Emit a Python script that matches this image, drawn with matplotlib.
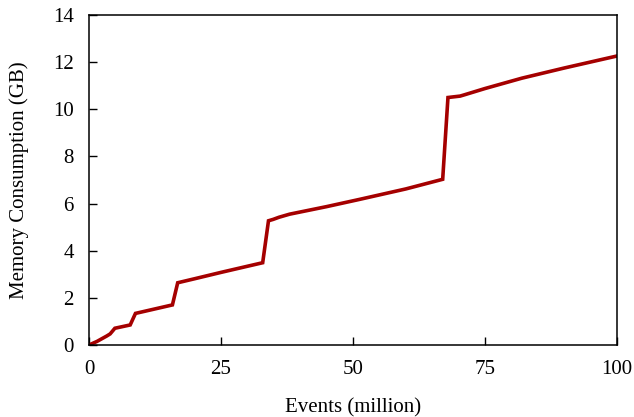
import matplotlib
matplotlib.use("Agg")
import matplotlib.pyplot as plt

# events (million) vs memory (GB)
events = [0, 1.5, 3.35, 4.0, 4.9, 7.8, 8.8, 15.8, 16.8, 20, 25, 30, 32.9,
          34.0, 34.9, 36, 38, 45, 51.3, 60, 67.0, 68.0, 70.3, 71.2, 75,
          82, 90, 100]
memory = [0, 0.15, 0.38, 0.47, 0.71, 0.85, 1.34, 1.70, 2.64, 2.81, 3.08, 3.34, 3.49,
          5.27, 5.33, 5.42, 5.55, 5.87, 6.18, 6.62, 7.03, 10.5, 10.56, 10.62, 10.88,
          11.32, 11.75, 12.26]

xticks = [0, 25, 50, 75, 100]
yticks = [0, 2, 4, 6, 8, 10, 12, 14]

plt.rcParams['font.family'] = ['Liberation Serif', 'DejaVu Serif']
plt.rcParams['font.size'] = 15

fig = plt.figure(figsize=(6.34, 4.17), dpi=100)
ax = fig.add_axes([0.1404, 0.1727, 0.8326, 0.7913])

ax.plot(events, memory, color='#a50000', lw=2.6, solid_joinstyle='miter')

ax.set_xlim(0, 100)
ax.set_ylim(0, 14)
ax.set_xticks(xticks)
ax.set_yticks(yticks)
ax.tick_params(direction='in', length=6, width=1, top=False, right=False)
ax.tick_params(axis='y', pad=11)
ax.tick_params(axis='x', pad=11)
for s in ax.spines.values():
    s.set_linewidth(1.1)

ax.set_xlabel('Events (million)', labelpad=14)
ax.set_ylabel('Memory Consumption (GB)', labelpad=17)

fig.savefig('out.png', dpi=100)
